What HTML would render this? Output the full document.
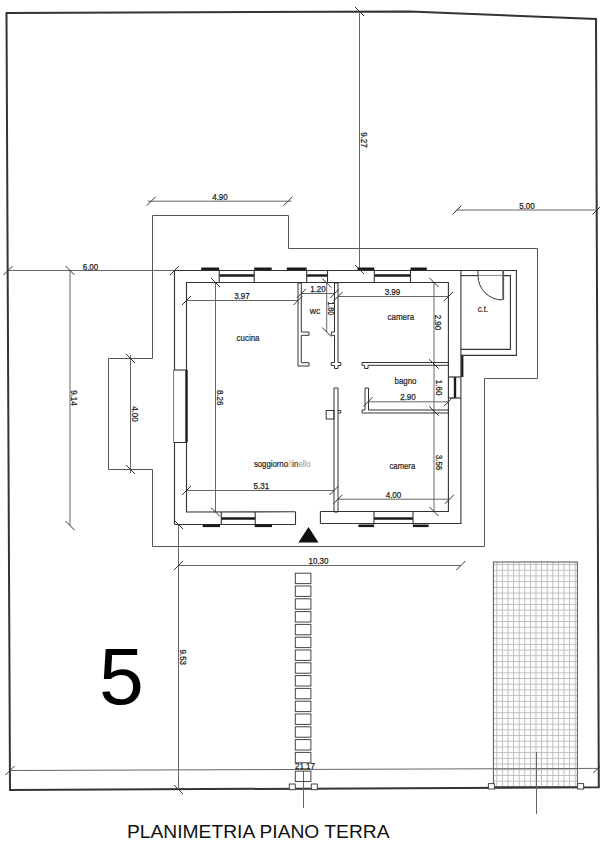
<!DOCTYPE html>
<html><head><meta charset="utf-8"><style>
html,body{margin:0;padding:0;background:#fff;width:600px;height:844px;overflow:hidden}
svg{position:absolute;left:0;top:0;font-family:"Liberation Sans",sans-serif}
.big{position:absolute;left:0;top:0;font-family:"Liberation Sans",sans-serif;color:#000;line-height:1;white-space:nowrap}
</style></head><body>
<svg width="600" height="844" viewBox="0 0 600 844">
<polygon points="6.5,13 410,11.5 596,19 598.8,787.3 10,790" stroke="#333" stroke-width="2" fill="none" stroke-linejoin="miter"/>
<defs><pattern id="g" x="496.3" y="565" width="5.6" height="5.7" patternUnits="userSpaceOnUse"><path d="M0,5.2 H5.6 M0.5,0 V5.7" stroke="#bdbdbd" stroke-width="1" fill="none"/></pattern></defs>
<rect x="493.4" y="562" width="84" height="224.6" fill="url(#g)" stroke="#555" stroke-width="1"/>
<polygon points="152.5,215.5 288.5,215.5 288.5,248.5 537.5,248.5 537.5,378.5 484.5,378.5 484.5,546.5 152.5,546.5 152.5,469.5 108.5,469.5 108.5,358.5 152.5,358.5" stroke="#555" stroke-width="1" fill="none" stroke-linejoin="miter"/>
<line x1="359.5" y1="11.5" x2="359.5" y2="269.5" stroke="#666" stroke-width="1"/>
<line x1="355.0" y1="7.0" x2="364.0" y2="16.0" stroke="#333" stroke-width="1"/>
<line x1="355.0" y1="265.0" x2="364.0" y2="274.0" stroke="#333" stroke-width="1"/>
<line x1="457" y1="210" x2="597" y2="210" stroke="#666" stroke-width="1"/>
<line x1="452.5" y1="214.5" x2="461.5" y2="205.5" stroke="#333" stroke-width="1"/>
<line x1="592.5" y1="214.5" x2="601.5" y2="205.5" stroke="#333" stroke-width="1"/>
<line x1="147.7" y1="201.2" x2="291.5" y2="201.2" stroke="#666" stroke-width="1"/>
<line x1="146.7" y1="205.7" x2="155.7" y2="196.7" stroke="#333" stroke-width="1"/>
<line x1="283.5" y1="205.7" x2="292.5" y2="196.7" stroke="#333" stroke-width="1"/>
<line x1="8" y1="270.5" x2="174.5" y2="270.5" stroke="#666" stroke-width="1"/>
<line x1="3.5" y1="275.0" x2="12.5" y2="266.0" stroke="#333" stroke-width="1"/>
<line x1="170.0" y1="275.0" x2="179.0" y2="266.0" stroke="#333" stroke-width="1"/>
<line x1="70" y1="270.5" x2="70" y2="525.5" stroke="#666" stroke-width="1"/>
<line x1="65.5" y1="266.0" x2="74.5" y2="275.0" stroke="#333" stroke-width="1"/>
<line x1="65.5" y1="521.0" x2="74.5" y2="530.0" stroke="#333" stroke-width="1"/>
<line x1="130.5" y1="355.0" x2="130.5" y2="473.0" stroke="#666" stroke-width="1"/>
<line x1="126.0" y1="354.0" x2="135.0" y2="363.0" stroke="#333" stroke-width="1"/>
<line x1="126.0" y1="465.0" x2="135.0" y2="474.0" stroke="#333" stroke-width="1"/>
<line x1="215.5" y1="282.5" x2="215.5" y2="512" stroke="#666" stroke-width="1"/>
<line x1="211.0" y1="278.0" x2="220.0" y2="287.0" stroke="#333" stroke-width="1"/>
<line x1="211.0" y1="507.5" x2="220.0" y2="516.5" stroke="#333" stroke-width="1"/>
<line x1="186.5" y1="300.5" x2="298" y2="300.5" stroke="#666" stroke-width="1"/>
<line x1="182.0" y1="305.0" x2="191.0" y2="296.0" stroke="#333" stroke-width="1"/>
<line x1="293.5" y1="305.0" x2="302.5" y2="296.0" stroke="#333" stroke-width="1"/>
<line x1="301.3" y1="293.5" x2="334.7" y2="293.5" stroke="#666" stroke-width="1"/>
<line x1="296.8" y1="298.0" x2="305.8" y2="289.0" stroke="#333" stroke-width="1"/>
<line x1="330.2" y1="298.0" x2="339.2" y2="289.0" stroke="#333" stroke-width="1"/>
<line x1="326.7" y1="283" x2="326.7" y2="332" stroke="#666" stroke-width="1"/>
<line x1="322.2" y1="278.5" x2="331.2" y2="287.5" stroke="#333" stroke-width="1"/>
<line x1="322.2" y1="327.5" x2="331.2" y2="336.5" stroke="#333" stroke-width="1"/>
<line x1="338" y1="296.5" x2="448.4" y2="296.5" stroke="#666" stroke-width="1"/>
<line x1="333.5" y1="301.0" x2="342.5" y2="292.0" stroke="#333" stroke-width="1"/>
<line x1="443.9" y1="301.0" x2="452.9" y2="292.0" stroke="#333" stroke-width="1"/>
<line x1="434" y1="282.5" x2="434" y2="364" stroke="#666" stroke-width="1"/>
<line x1="429.5" y1="278.0" x2="438.5" y2="287.0" stroke="#333" stroke-width="1"/>
<line x1="429.5" y1="359.5" x2="438.5" y2="368.5" stroke="#333" stroke-width="1"/>
<line x1="434" y1="364" x2="434" y2="411" stroke="#666" stroke-width="1"/>
<line x1="429.5" y1="359.5" x2="438.5" y2="368.5" stroke="#333" stroke-width="1"/>
<line x1="429.5" y1="406.5" x2="438.5" y2="415.5" stroke="#333" stroke-width="1"/>
<line x1="368" y1="401.8" x2="448.4" y2="401.8" stroke="#666" stroke-width="1"/>
<line x1="363.5" y1="406.3" x2="372.5" y2="397.3" stroke="#333" stroke-width="1"/>
<line x1="443.9" y1="406.3" x2="452.9" y2="397.3" stroke="#333" stroke-width="1"/>
<line x1="434" y1="411" x2="434" y2="511.5" stroke="#666" stroke-width="1"/>
<line x1="429.5" y1="406.5" x2="438.5" y2="415.5" stroke="#333" stroke-width="1"/>
<line x1="429.5" y1="507.0" x2="438.5" y2="516.0" stroke="#333" stroke-width="1"/>
<line x1="186.5" y1="490.5" x2="334" y2="490.5" stroke="#666" stroke-width="1"/>
<line x1="182.0" y1="495.0" x2="191.0" y2="486.0" stroke="#333" stroke-width="1"/>
<line x1="329.5" y1="495.0" x2="338.5" y2="486.0" stroke="#333" stroke-width="1"/>
<line x1="338" y1="499.2" x2="449.5" y2="499.2" stroke="#666" stroke-width="1"/>
<line x1="333.5" y1="503.7" x2="342.5" y2="494.7" stroke="#333" stroke-width="1"/>
<line x1="445.0" y1="503.7" x2="454.0" y2="494.7" stroke="#333" stroke-width="1"/>
<line x1="178.5" y1="565.5" x2="460.9" y2="565.5" stroke="#666" stroke-width="1"/>
<line x1="174.0" y1="570.0" x2="183.0" y2="561.0" stroke="#333" stroke-width="1"/>
<line x1="456.4" y1="570.0" x2="465.4" y2="561.0" stroke="#333" stroke-width="1"/>
<line x1="178.5" y1="524.5" x2="178.5" y2="789.5" stroke="#666" stroke-width="1"/>
<line x1="174.0" y1="520.0" x2="183.0" y2="529.0" stroke="#333" stroke-width="1"/>
<line x1="174.0" y1="785.0" x2="183.0" y2="794.0" stroke="#333" stroke-width="1"/>
<line x1="174.0" y1="570.0" x2="183.0" y2="561.0" stroke="#333" stroke-width="1"/>
<line x1="10" y1="770.5" x2="598.5" y2="768.4" stroke="#666" stroke-width="1"/>
<line x1="5.5" y1="775.0" x2="14.5" y2="766.0" stroke="#333" stroke-width="1"/>
<line x1="593.5" y1="772.9" x2="602.5" y2="763.9" stroke="#333" stroke-width="1"/>
<line x1="303.5" y1="771" x2="303.5" y2="808" stroke="#666" stroke-width="1"/>
<line x1="536.5" y1="752" x2="536.5" y2="814" stroke="#666" stroke-width="1"/>
<polyline points="174.5,370 174.5,270.5 516.4,270.5 516.4,355.4 460.9,355.4 460.9,523.5 320.4,523.5" stroke="#333" stroke-width="1.1" fill="none" stroke-linejoin="miter"/>
<line x1="174.5" y1="524.5" x2="295.5" y2="524.5" stroke="#333" stroke-width="1.1"/>
<line x1="174.5" y1="442.5" x2="174.5" y2="524.5" stroke="#333" stroke-width="1.1"/>
<line x1="295.5" y1="511.8" x2="295.5" y2="524.5" stroke="#333" stroke-width="1.1"/>
<line x1="320.4" y1="511.5" x2="320.4" y2="523.5" stroke="#333" stroke-width="1.1"/>
<polyline points="295.5,511.8 186.5,512 186.5,282.5 448.4,282.5 448.4,511.5 320.4,511.5" stroke="#333" stroke-width="1.1" fill="none" stroke-linejoin="miter"/>
<polyline points="478,275.6 460.9,275.6" stroke="#333" stroke-width="1.1" fill="none" stroke-linejoin="miter"/>
<polyline points="502.4,275.6 510.4,275.6 510.4,349.4 460.9,349.4" stroke="#333" stroke-width="1.1" fill="none" stroke-linejoin="miter"/>
<line x1="478" y1="270.5" x2="478" y2="275.6" stroke="#333" stroke-width="1"/>
<line x1="460.9" y1="270.5" x2="460.9" y2="355.4" stroke="#333" stroke-width="1.1"/>
<line x1="478" y1="275.4" x2="502.4" y2="275.4" stroke="#888" stroke-width="1"/>
<line x1="503.2" y1="270" x2="503.2" y2="300" stroke="#555" stroke-width="1.8"/>
<path d="M478,275.6 A24.4,24.4 0 0 0 502.4,300" stroke="#333" stroke-width="1" fill="none"/>
<line x1="201.2" y1="268.8" x2="219.2" y2="268.8" stroke="#1a1a1a" stroke-width="2.6"/>
<line x1="254.2" y1="268.8" x2="271.7" y2="268.8" stroke="#1a1a1a" stroke-width="2.6"/>
<line x1="286.8" y1="268.8" x2="306.7" y2="268.8" stroke="#1a1a1a" stroke-width="2.6"/>
<line x1="357.5" y1="268.8" x2="374.3" y2="268.8" stroke="#1a1a1a" stroke-width="2.6"/>
<line x1="410.5" y1="268.8" x2="426.8" y2="268.8" stroke="#1a1a1a" stroke-width="2.6"/>
<line x1="219.2" y1="275.5" x2="254.2" y2="275.5" stroke="#1a1a1a" stroke-width="2.4"/>
<line x1="219.2" y1="270.5" x2="219.2" y2="282.5" stroke="#333" stroke-width="1.1"/>
<line x1="254.2" y1="270.5" x2="254.2" y2="282.5" stroke="#333" stroke-width="1.1"/>
<line x1="306.7" y1="275.5" x2="327.5" y2="275.5" stroke="#1a1a1a" stroke-width="2.4"/>
<line x1="306.7" y1="270.5" x2="306.7" y2="282.5" stroke="#333" stroke-width="1.1"/>
<line x1="327.5" y1="270.5" x2="327.5" y2="282.5" stroke="#333" stroke-width="1.1"/>
<line x1="374.3" y1="275.5" x2="410.5" y2="275.5" stroke="#1a1a1a" stroke-width="2.4"/>
<line x1="374.3" y1="270.5" x2="374.3" y2="282.5" stroke="#333" stroke-width="1.1"/>
<line x1="410.5" y1="270.5" x2="410.5" y2="282.5" stroke="#333" stroke-width="1.1"/>
<line x1="202.7" y1="525.8" x2="220" y2="525.8" stroke="#1a1a1a" stroke-width="2.6"/>
<line x1="254.7" y1="525.8" x2="272" y2="525.8" stroke="#1a1a1a" stroke-width="2.6"/>
<line x1="358.4" y1="525.8" x2="374" y2="525.8" stroke="#1a1a1a" stroke-width="2.6"/>
<line x1="413" y1="525.8" x2="428.6" y2="525.8" stroke="#1a1a1a" stroke-width="2.6"/>
<line x1="221.3" y1="518.5" x2="255.2" y2="518.5" stroke="#1a1a1a" stroke-width="2.4"/>
<line x1="221.3" y1="512" x2="221.3" y2="524.5" stroke="#333" stroke-width="1.1"/>
<line x1="255.2" y1="512" x2="255.2" y2="524.5" stroke="#333" stroke-width="1.1"/>
<line x1="374" y1="518.5" x2="413" y2="518.5" stroke="#1a1a1a" stroke-width="2.4"/>
<line x1="374" y1="512" x2="374" y2="524.5" stroke="#333" stroke-width="1.1"/>
<line x1="413" y1="512" x2="413" y2="524.5" stroke="#333" stroke-width="1.1"/>
<line x1="186.5" y1="370" x2="186.5" y2="442.5" stroke="#1a1a1a" stroke-width="2.4"/>
<line x1="173.6" y1="370" x2="186.5" y2="370" stroke="#333" stroke-width="1.1"/>
<line x1="173.6" y1="442.5" x2="186.5" y2="442.5" stroke="#333" stroke-width="1.1"/>
<line x1="173.6" y1="370" x2="173.6" y2="442.5" stroke="#777" stroke-width="1"/>
<line x1="462.3" y1="356" x2="462.3" y2="377" stroke="#1a1a1a" stroke-width="2.2"/>
<line x1="455" y1="377" x2="455" y2="398" stroke="#1a1a1a" stroke-width="2.4"/>
<line x1="448.4" y1="377" x2="460.9" y2="377" stroke="#333" stroke-width="1.2"/>
<line x1="448.4" y1="398" x2="460.9" y2="398" stroke="#333" stroke-width="1.2"/>
<polygon points="298,283 298,366 309,366 309,362.7 301.3,362.7 301.3,335.3 309,335.3 309,332 301.3,332 301.3,283" stroke="#333" stroke-width="1" fill="none" stroke-linejoin="miter"/>
<polygon points="334.5,283 334.5,332 331.3,332 331.3,335.3 334.5,335.3 334.5,362.5 331.2,362.5 331.2,365.5 334.5,365.5 334.5,368.5 338,368.5 338,365.5 340.8,365.5 340.8,362.5 338,362.5 338,283" stroke="#333" stroke-width="1" fill="none" stroke-linejoin="miter"/>
<polygon points="334,512 334,388 338,388 338,512" stroke="#333" stroke-width="1" fill="none" stroke-linejoin="miter"/>
<rect x="326.2" y="410.5" width="7.8" height="8.5" stroke="#333" stroke-width="1" fill="none"/>
<polyline points="338,410.5 340.8,410.5 340.8,413 338,413" stroke="#333" stroke-width="1" fill="none" stroke-linejoin="miter"/>
<polygon points="448.4,362.5 362,362.5 362,365.3 364.7,365.3 364.7,368.5 368,368.5 368,365.3 448.4,365.3" stroke="#333" stroke-width="1" fill="none" stroke-linejoin="miter"/>
<polygon points="448.4,410 368.5,410 368.5,388 365,388 365,410 362,410 362,413 448.4,413" stroke="#333" stroke-width="1" fill="none" stroke-linejoin="miter"/>
<text x="220" y="196.5" font-size="8.80" fill="#222" text-anchor="middle" dominant-baseline="central" stroke="#222" stroke-width="0.25" textLength="15.57" lengthAdjust="spacingAndGlyphs">4.90</text>
<text x="527" y="206" font-size="8.80" fill="#222" text-anchor="middle" dominant-baseline="central" stroke="#222" stroke-width="0.25" textLength="15.57" lengthAdjust="spacingAndGlyphs">5.00</text>
<text x="90.5" y="266.8" font-size="8.80" fill="#222" text-anchor="middle" dominant-baseline="central" stroke="#222" stroke-width="0.25" textLength="15.57" lengthAdjust="spacingAndGlyphs">6.00</text>
<text x="364" y="140" font-size="8.80" fill="#222" text-anchor="middle" dominant-baseline="central" stroke="#222" stroke-width="0.25" textLength="15.57" lengthAdjust="spacingAndGlyphs" transform="rotate(90 364 140)">9.27</text>
<text x="74" y="398" font-size="8.80" fill="#222" text-anchor="middle" dominant-baseline="central" stroke="#222" stroke-width="0.25" textLength="15.57" lengthAdjust="spacingAndGlyphs" transform="rotate(90 74 398)">9.14</text>
<text x="134.5" y="414" font-size="8.80" fill="#222" text-anchor="middle" dominant-baseline="central" stroke="#222" stroke-width="0.25" textLength="15.57" lengthAdjust="spacingAndGlyphs" transform="rotate(90 134.5 414)">4.00</text>
<text x="220" y="397.7" font-size="8.80" fill="#222" text-anchor="middle" dominant-baseline="central" stroke="#222" stroke-width="0.25" textLength="15.57" lengthAdjust="spacingAndGlyphs" transform="rotate(90 220 397.7)">8.26</text>
<text x="242" y="295.7" font-size="8.80" fill="#222" text-anchor="middle" dominant-baseline="central" stroke="#222" stroke-width="0.25" textLength="15.57" lengthAdjust="spacingAndGlyphs">3.97</text>
<text x="318" y="289.4" font-size="8.80" fill="#222" text-anchor="middle" dominant-baseline="central" stroke="#222" stroke-width="0.25" textLength="15.57" lengthAdjust="spacingAndGlyphs">1.20</text>
<text x="331.3" y="308.3" font-size="8.80" fill="#222" text-anchor="middle" dominant-baseline="central" stroke="#222" stroke-width="0.25" textLength="13.70" lengthAdjust="spacingAndGlyphs" transform="rotate(90 331.3 308.3)">1.80</text>
<text x="309.8" y="314" font-size="9" fill="#222" stroke="#222" stroke-width="0.2" textLength="10.50" lengthAdjust="spacingAndGlyphs">wc</text>
<text x="392.5" y="292" font-size="8.80" fill="#222" text-anchor="middle" dominant-baseline="central" stroke="#222" stroke-width="0.25" textLength="15.57" lengthAdjust="spacingAndGlyphs">3.99</text>
<text x="387.5" y="319.5" font-size="9" fill="#222" stroke="#222" stroke-width="0.2" textLength="26.70" lengthAdjust="spacingAndGlyphs">camera</text>
<text x="438.3" y="322.5" font-size="8.80" fill="#222" text-anchor="middle" dominant-baseline="central" stroke="#222" stroke-width="0.25" textLength="15.57" lengthAdjust="spacingAndGlyphs" transform="rotate(90 438.3 322.5)">2.90</text>
<text x="477.7" y="311.8" font-size="9" fill="#222" stroke="#222" stroke-width="0.2" textLength="10.50" lengthAdjust="spacingAndGlyphs">c.t.</text>
<text x="394.5" y="384.3" font-size="9" fill="#222" stroke="#222" stroke-width="0.2" textLength="22.00" lengthAdjust="spacingAndGlyphs">bagno</text>
<text x="438.8" y="387.6" font-size="8.80" fill="#222" text-anchor="middle" dominant-baseline="central" stroke="#222" stroke-width="0.25" textLength="15.57" lengthAdjust="spacingAndGlyphs" transform="rotate(90 438.8 387.6)">1.60</text>
<text x="408" y="396.5" font-size="8.80" fill="#222" text-anchor="middle" dominant-baseline="central" stroke="#222" stroke-width="0.25" textLength="15.57" lengthAdjust="spacingAndGlyphs">2.90</text>
<text x="389.5" y="469" font-size="9" fill="#222" stroke="#222" stroke-width="0.2" textLength="25.70" lengthAdjust="spacingAndGlyphs">camera</text>
<text x="438.7" y="462.5" font-size="8.80" fill="#222" text-anchor="middle" dominant-baseline="central" stroke="#222" stroke-width="0.25" textLength="15.57" lengthAdjust="spacingAndGlyphs" transform="rotate(90 438.7 462.5)">3.56</text>
<text x="393.5" y="495" font-size="8.80" fill="#222" text-anchor="middle" dominant-baseline="central" stroke="#222" stroke-width="0.25" textLength="15.57" lengthAdjust="spacingAndGlyphs">4.00</text>
<text x="261.4" y="486.4" font-size="8.80" fill="#222" text-anchor="middle" dominant-baseline="central" stroke="#222" stroke-width="0.25" textLength="15.57" lengthAdjust="spacingAndGlyphs">5.31</text>
<text x="236.5" y="340.5" font-size="9" fill="#222" stroke="#222" stroke-width="0.2" textLength="23.00" lengthAdjust="spacingAndGlyphs">cucina</text>
<text x="253.9" y="466.7" font-size="9" fill="#222" stroke="#222" stroke-width="0.2" textLength="56.60" lengthAdjust="spacingAndGlyphs">soggiorno<tspan fill="#bbb" stroke="#bbb">/t</tspan><tspan fill="#444" stroke="#444">in</tspan><tspan fill="#aaa" stroke="#aaa">ello</tspan></text>
<text x="318.5" y="560.6" font-size="8.80" fill="#222" text-anchor="middle" dominant-baseline="central" stroke="#222" stroke-width="0.25" textLength="20.02" lengthAdjust="spacingAndGlyphs">10.30</text>
<text x="183" y="657.3" font-size="8.80" fill="#222" text-anchor="middle" dominant-baseline="central" stroke="#222" stroke-width="0.25" textLength="15.57" lengthAdjust="spacingAndGlyphs" transform="rotate(90 183 657.3)">9.53</text>
<text x="305" y="765.5" font-size="8.80" fill="#222" text-anchor="middle" dominant-baseline="central" stroke="#222" stroke-width="0.25" textLength="20.02" lengthAdjust="spacingAndGlyphs">21.17</text>
<polygon points="298.4,542.6 308.5,527 318.5,542.6" fill="#111"/>
<rect x="295.3" y="573.2" width="15.6" height="10.4" stroke="#444" stroke-width="1" fill="none"/>
<rect x="295.3" y="586.0" width="15.6" height="10.4" stroke="#444" stroke-width="1" fill="none"/>
<rect x="295.3" y="598.8000000000001" width="15.6" height="10.4" stroke="#444" stroke-width="1" fill="none"/>
<rect x="295.3" y="611.6" width="15.6" height="10.4" stroke="#444" stroke-width="1" fill="none"/>
<rect x="295.3" y="624.4000000000001" width="15.6" height="10.4" stroke="#444" stroke-width="1" fill="none"/>
<rect x="295.3" y="637.2" width="15.6" height="10.4" stroke="#444" stroke-width="1" fill="none"/>
<rect x="295.3" y="650.0" width="15.6" height="10.4" stroke="#444" stroke-width="1" fill="none"/>
<rect x="295.3" y="662.8000000000001" width="15.6" height="10.4" stroke="#444" stroke-width="1" fill="none"/>
<rect x="295.3" y="675.6" width="15.6" height="10.4" stroke="#444" stroke-width="1" fill="none"/>
<rect x="295.3" y="688.4000000000001" width="15.6" height="10.4" stroke="#444" stroke-width="1" fill="none"/>
<rect x="295.3" y="701.2" width="15.6" height="10.4" stroke="#444" stroke-width="1" fill="none"/>
<rect x="295.3" y="714.0" width="15.6" height="10.4" stroke="#444" stroke-width="1" fill="none"/>
<rect x="295.3" y="726.8000000000001" width="15.6" height="10.4" stroke="#444" stroke-width="1" fill="none"/>
<rect x="295.3" y="739.6" width="15.6" height="10.4" stroke="#444" stroke-width="1" fill="none"/>
<rect x="295.3" y="752.4000000000001" width="15.6" height="10.4" stroke="#444" stroke-width="1" fill="none"/>
<rect x="295.3" y="771.1" width="15.6" height="10.4" stroke="#444" stroke-width="1" fill="none"/>
<rect x="289.3" y="784" width="6" height="5.7" stroke="#444" stroke-width="1" fill="#fff"/>
<rect x="311.3" y="784" width="6" height="5.7" stroke="#444" stroke-width="1" fill="#fff"/>
<rect x="488.4" y="783.6" width="6" height="5.4" stroke="#444" stroke-width="1" fill="#fff"/>
<rect x="577.6" y="783.6" width="6" height="5.4" stroke="#444" stroke-width="1" fill="#fff"/>
<text x="121.5" y="704" font-size="80.5" fill="#000" text-anchor="middle">5</text>
<text x="127" y="837.5" font-size="18.5" fill="#111" textLength="262.5" lengthAdjust="spacingAndGlyphs">PLANIMETRIA PIANO TERRA</text>
</svg>
</body></html>
